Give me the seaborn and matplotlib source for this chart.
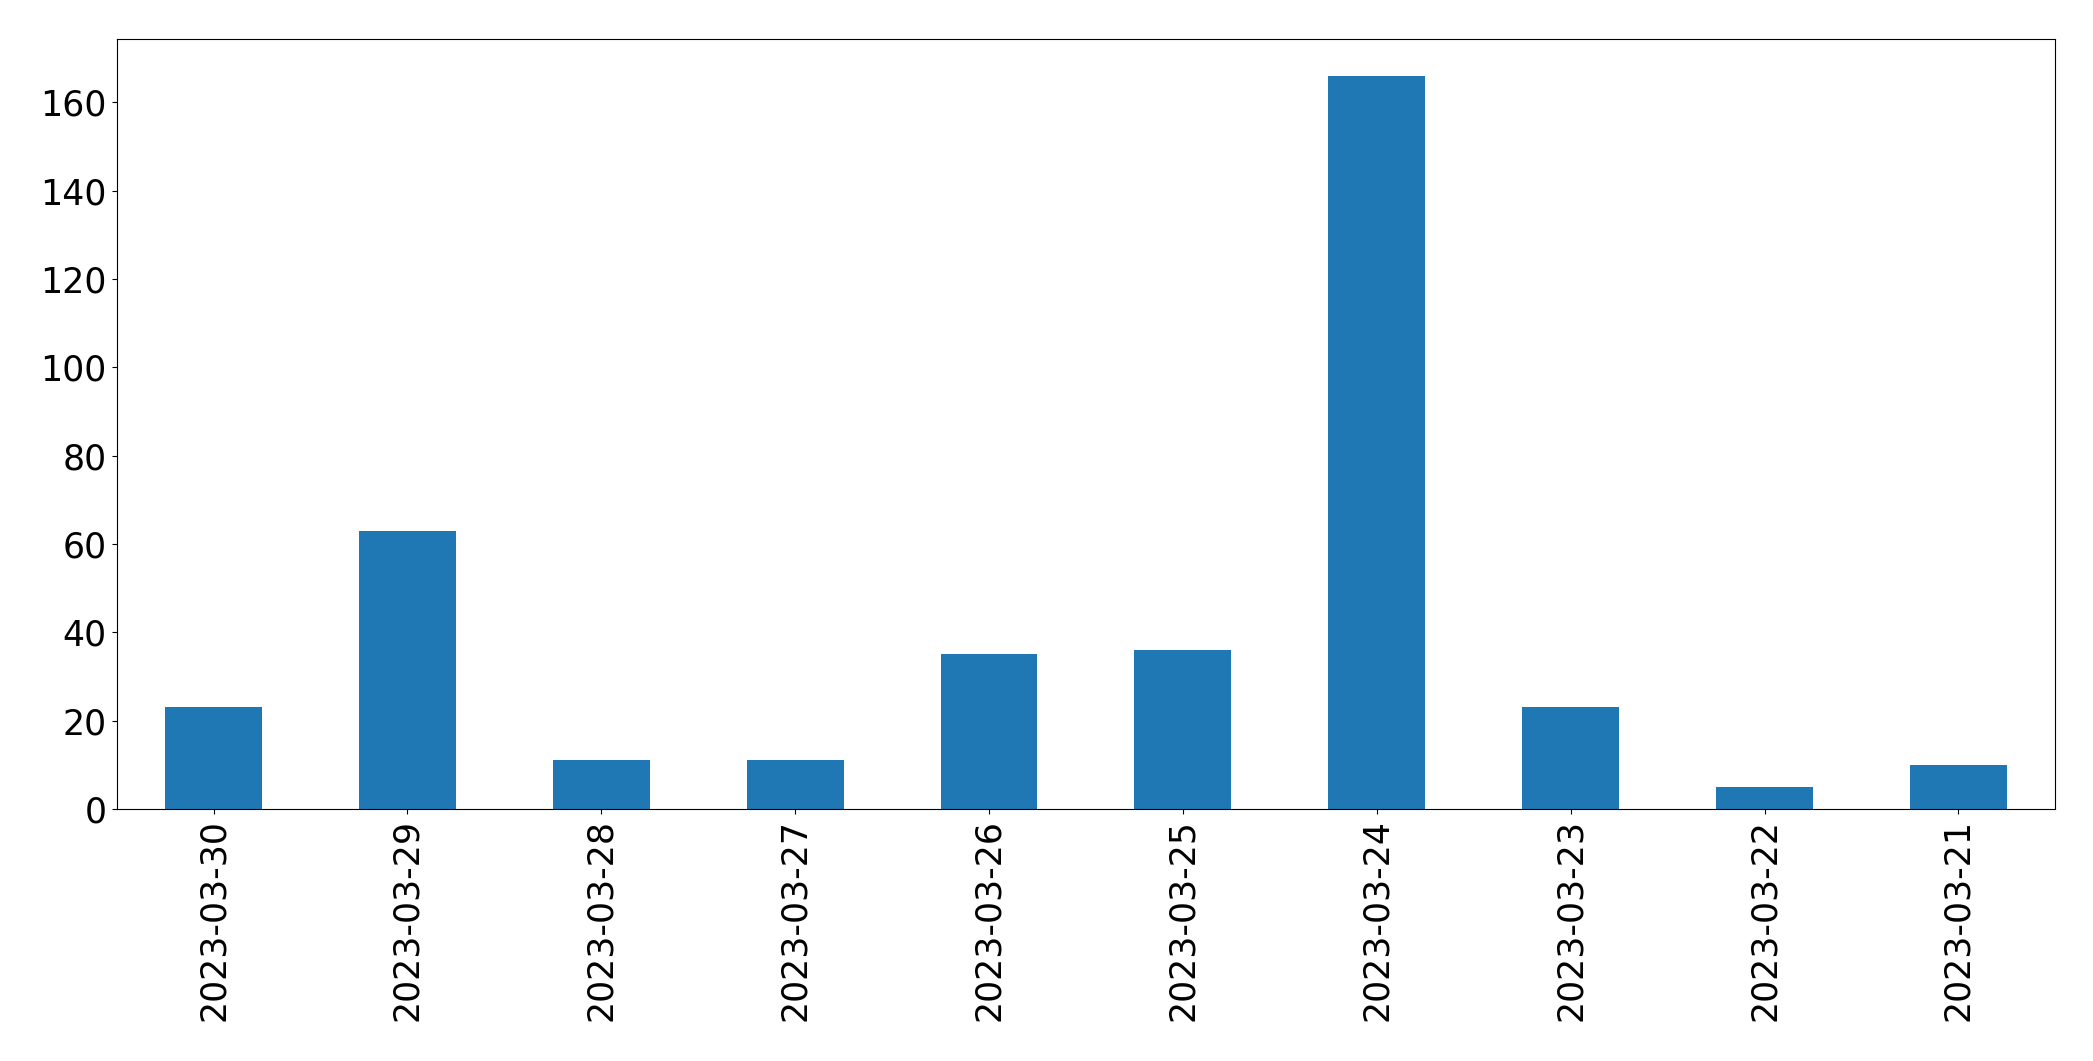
import matplotlib
matplotlib.use("Agg")
import matplotlib.pyplot as plt
import seaborn as sns
import pandas as pd

dates = ["2023-03-30", "2023-03-29", "2023-03-28", "2023-03-27", "2023-03-26",
         "2023-03-25", "2023-03-24", "2023-03-23", "2023-03-22", "2023-03-21"]
counts = [23, 63, 11, 11, 35, 36, 166, 23, 5, 10]

df = pd.DataFrame({"date": dates, "count": counts})

plt.rcParams["font.family"] = ["DejaVu Sans"]

fig = plt.figure(figsize=(20.93, 10.61), dpi=100)
ax = fig.add_axes([0.0557, 0.2375, 0.9263, 0.7255])
sns.barplot(data=df, x="date", y="count", order=dates, color="#1f77b4",
            saturation=1, width=0.5, ax=ax)
ax.set_xlim(-0.5, len(dates) - 0.5)
ax.set_ylim(0, max(counts) * 1.05)
ax.set_xlabel("")
ax.set_ylabel("")
ax.tick_params(axis="both", labelsize=25)
ax.tick_params(axis="x", labelrotation=90)
fig.savefig("out.png", dpi=100)
